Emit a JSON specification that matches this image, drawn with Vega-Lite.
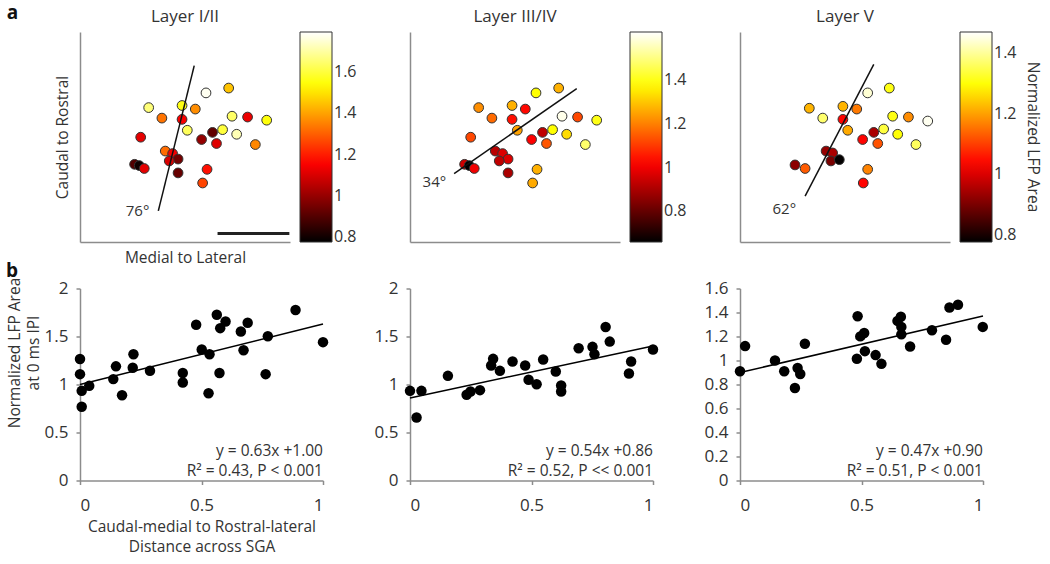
{
  "$schema": "https://vega.github.io/schema/vega-lite/v6.json",
  "background": "white",
  "padding": {"left": 5, "top": 4, "right": 5, "bottom": 5},
  "config": {
    "font": "Open Sans",
    "view": {"stroke": null},
    "axis": {"domainColor": "#8c8c8c", "domainWidth": 1.5, "tickColor": "#8c8c8c", "tickWidth": 1.5, "tickSize": 4, "grid": false, "labelFont": "Open Sans", "labelFontSize": 17, "labelColor": "#333", "titleFont": "Open Sans", "titleFontSize": 15.5, "titleFontWeight": "normal", "titleColor": "#333"},
    "legend": {"gradientVerticalMaxLength": 400, "labelFont": "Open Sans", "labelFontSize": 16, "labelColor": "#333", "labelOffset": 4, "gradientStrokeColor": "#333", "gradientStrokeWidth": 1, "padding": 0, "titleFont": "Open Sans", "titleFontSize": 15.5, "titleFontWeight": "normal", "titleColor": "#333"},
    "title": {"font": "Open Sans", "fontSize": 17, "fontWeight": "normal", "color": "#333", "frame": "group", "baseline": "alphabetic", "offset": 6}
  },
  "datasets": {
    "t1": [
      {"x": 70.8, "y": 73.3, "v": 1.45}, {"x": 60.0, "y": 71.0, "v": 1.78}, {"x": 32.7, "y": 64.0, "v": 1.66}, {"x": 48.6, "y": 65.0, "v": 1.56},
      {"x": 54.9, "y": 63.3, "v": 1.37}, {"x": 39.0, "y": 59.0, "v": 1.33}, {"x": 48.6, "y": 58.4, "v": 1.15}, {"x": 72.4, "y": 59.9, "v": 1.64},
      {"x": 79.8, "y": 59.5, "v": 1.13}, {"x": 88.9, "y": 58.0, "v": 1.55}, {"x": 51.1, "y": 53.2, "v": 1.63}, {"x": 67.9, "y": 53.5, "v": 1.60},
      {"x": 28.9, "y": 49.9, "v": 1.12}, {"x": 63.1, "y": 52.2, "v": 0.92}, {"x": 74.6, "y": 51.3, "v": 1.72}, {"x": 57.9, "y": 48.8, "v": 1.00},
      {"x": 65.0, "y": 46.9, "v": 1.11}, {"x": 83.5, "y": 46.4, "v": 1.36}, {"x": 40.6, "y": 43.3, "v": 1.32}, {"x": 44.1, "y": 42.1, "v": 1.14},
      {"x": 46.7, "y": 39.5, "v": 0.95}, {"x": 42.5, "y": 38.6, "v": 1.10}, {"x": 26.0, "y": 37.0, "v": 0.90}, {"x": 28.2, "y": 36.4, "v": 0.80},
      {"x": 30.6, "y": 35.0, "v": 1.12}, {"x": 60.5, "y": 34.6, "v": 1.18}, {"x": 46.7, "y": 32.9, "v": 0.93}, {"x": 58.4, "y": 28.1, "v": 1.26}
    ],
    "t2": [
      {"x": 70.8, "y": 73.3, "v": 1.27}, {"x": 60.0, "y": 71.0, "v": 1.38}, {"x": 32.7, "y": 64.0, "v": 1.22}, {"x": 48.6, "y": 65.0, "v": 1.27},
      {"x": 54.9, "y": 63.3, "v": 1.03}, {"x": 39.0, "y": 59.0, "v": 1.17}, {"x": 48.6, "y": 58.4, "v": 1.04}, {"x": 72.4, "y": 59.9, "v": 1.60},
      {"x": 79.8, "y": 59.5, "v": 1.12}, {"x": 88.9, "y": 58.0, "v": 1.40}, {"x": 51.1, "y": 53.2, "v": 1.25}, {"x": 67.9, "y": 53.5, "v": 1.38},
      {"x": 28.9, "y": 49.9, "v": 1.12}, {"x": 63.1, "y": 52.2, "v": 0.93}, {"x": 74.6, "y": 51.3, "v": 1.33}, {"x": 57.9, "y": 48.8, "v": 1.02},
      {"x": 65.0, "y": 46.9, "v": 1.14}, {"x": 83.5, "y": 46.4, "v": 1.48}, {"x": 40.6, "y": 43.3, "v": 0.92}, {"x": 44.1, "y": 42.1, "v": 0.97},
      {"x": 46.7, "y": 39.5, "v": 0.97}, {"x": 42.5, "y": 38.6, "v": 0.93}, {"x": 26.0, "y": 37.0, "v": 0.95}, {"x": 28.2, "y": 36.4, "v": 0.66},
      {"x": 30.6, "y": 35.0, "v": 1.00}, {"x": 60.5, "y": 34.6, "v": 1.27}, {"x": 46.7, "y": 32.9, "v": 0.90}, {"x": 58.4, "y": 28.1, "v": 1.26}
    ],
    "t3": [
      {"x": 71.1, "y": 73.3, "v": 1.31}, {"x": 60.8, "y": 71.0, "v": 1.44}, {"x": 33.0, "y": 63.7, "v": 1.22}, {"x": 49.0, "y": 64.6, "v": 1.22},
      {"x": 55.6, "y": 63.3, "v": 1.16}, {"x": 39.4, "y": 59.0, "v": 1.37}, {"x": 49.0, "y": 58.4, "v": 1.04}, {"x": 72.7, "y": 59.9, "v": 1.31},
      {"x": 80.2, "y": 59.5, "v": 1.18}, {"x": 89.4, "y": 57.6, "v": 1.46}, {"x": 51.3, "y": 53.2, "v": 1.21}, {"x": 68.4, "y": 53.8, "v": 1.34},
      {"x": 63.7, "y": 52.2, "v": 0.95}, {"x": 58.4, "y": 48.8, "v": 1.04}, {"x": 65.6, "y": 46.9, "v": 1.12}, {"x": 75.1, "y": 51.3, "v": 1.30},
      {"x": 83.8, "y": 46.4, "v": 1.36}, {"x": 41.0, "y": 43.3, "v": 0.93}, {"x": 44.1, "y": 42.4, "v": 0.95}, {"x": 43.3, "y": 38.6, "v": 0.90},
      {"x": 47.3, "y": 39.2, "v": 0.78}, {"x": 26.2, "y": 36.7, "v": 0.92}, {"x": 31.0, "y": 35.0, "v": 1.13}, {"x": 60.8, "y": 34.6, "v": 1.17},
      {"x": 58.7, "y": 28.1, "v": 1.04}
    ],
    "l1": [{"x": 54.4, "y": 84.0}, {"x": 37.3, "y": 14.8}],
    "l2": [{"x": 79.4, "y": 73.0}, {"x": 21.0, "y": 32.6}],
    "l3": [{"x": 63.7, "y": 84.6}, {"x": 31.0, "y": 21.8}],
    "b1": [
      {"x": 0, "y": 1.266}, {"x": 0, "y": 1.108}, {"x": 0.007, "y": 0.934}, {"x": 0.038, "y": 0.986}, {"x": 0.007, "y": 0.769},
      {"x": 0.137, "y": 1.056}, {"x": 0.148, "y": 1.189}, {"x": 0.173, "y": 0.888}, {"x": 0.217, "y": 1.175}, {"x": 0.220, "y": 1.315},
      {"x": 0.288, "y": 1.143}, {"x": 0.423, "y": 1.119}, {"x": 0.423, "y": 1.021}, {"x": 0.478, "y": 1.622}, {"x": 0.501, "y": 1.364},
      {"x": 0.533, "y": 1.315}, {"x": 0.529, "y": 0.909}, {"x": 0.563, "y": 1.727}, {"x": 0.577, "y": 1.587}, {"x": 0.599, "y": 1.657},
      {"x": 0.574, "y": 1.119}, {"x": 0.662, "y": 1.552}, {"x": 0.673, "y": 1.357}, {"x": 0.690, "y": 1.643}, {"x": 0.764, "y": 1.108},
      {"x": 0.773, "y": 1.503}, {"x": 0.887, "y": 1.776}, {"x": 1.0, "y": 1.441}
    ],
    "b2": [
      {"x": 0, "y": 0.934}, {"x": 0.047, "y": 0.934}, {"x": 0.027, "y": 0.657}, {"x": 0.156, "y": 1.090}, {"x": 0.233, "y": 0.893},
      {"x": 0.249, "y": 0.927}, {"x": 0.288, "y": 0.941}, {"x": 0.342, "y": 1.267}, {"x": 0.334, "y": 1.198}, {"x": 0.370, "y": 1.142},
      {"x": 0.422, "y": 1.239}, {"x": 0.474, "y": 1.198}, {"x": 0.488, "y": 1.049}, {"x": 0.521, "y": 1.003}, {"x": 0.548, "y": 1.260},
      {"x": 0.600, "y": 1.135}, {"x": 0.622, "y": 0.990}, {"x": 0.622, "y": 0.927}, {"x": 0.694, "y": 1.378}, {"x": 0.751, "y": 1.392},
      {"x": 0.759, "y": 1.315}, {"x": 0.805, "y": 1.599}, {"x": 0.822, "y": 1.447}, {"x": 0.910, "y": 1.239}, {"x": 0.901, "y": 1.114},
      {"x": 1.0, "y": 1.364}
    ],
    "b3": [
      {"x": 0, "y": 0.910}, {"x": 0.021, "y": 1.120}, {"x": 0.144, "y": 1.0}, {"x": 0.182, "y": 0.910}, {"x": 0.226, "y": 0.771},
      {"x": 0.237, "y": 0.938}, {"x": 0.248, "y": 0.888}, {"x": 0.267, "y": 1.140}, {"x": 0.481, "y": 1.014}, {"x": 0.484, "y": 1.369},
      {"x": 0.495, "y": 1.201}, {"x": 0.511, "y": 1.229}, {"x": 0.514, "y": 1.078}, {"x": 0.558, "y": 1.045}, {"x": 0.582, "y": 0.972},
      {"x": 0.648, "y": 1.330}, {"x": 0.662, "y": 1.364}, {"x": 0.664, "y": 1.280}, {"x": 0.664, "y": 1.218}, {"x": 0.700, "y": 1.117},
      {"x": 0.790, "y": 1.252}, {"x": 0.848, "y": 1.173}, {"x": 0.862, "y": 1.442}, {"x": 0.897, "y": 1.464}, {"x": 0.999, "y": 1.280}
    ],
    "r1": [{"x": 0, "y": 1.0}, {"x": 1, "y": 1.63}],
    "r2": [{"x": 0, "y": 0.86}, {"x": 1, "y": 1.40}],
    "r3": [{"x": 0, "y": 0.90}, {"x": 1, "y": 1.37}]
  },
  "columns": 3,
  "bounds": "flush",
  "align": "all",
  "spacing": {"row": 46.5, "column": 87},
  "resolve": {"scale": {"x": "independent", "y": "independent", "color": "independent"}, "legend": {"color": "independent"}},
  "concat": [
    {
      "width": 210, "height": 210,
      "title": {"text": "Layer I/II"},
      "encoding": {
        "x": {"field": "x", "type": "quantitative", "scale": {"domain": [0, 100], "nice": false, "zero": false}, "axis": {"title": "Medial to Lateral", "ticks": false, "labels": false, "titlePadding": 8}},
        "y": {"field": "y", "type": "quantitative", "scale": {"domain": [0, 100], "nice": false, "zero": false}, "axis": {"title": "Caudal to Rostral", "ticks": false, "labels": false, "titlePadding": 10}}
      },
      "layer": [
        {"data": {"name": "t1"}, "mark": {"type": "circle", "size": 95, "opacity": 1, "stroke": "#333", "strokeWidth": 1},
         "encoding": {"color": {"field": "v", "type": "quantitative",
           "scale": {"domain": [0.777, 1.1584, 1.5398, 1.794], "range": ["#000000", "#ff0000", "#ffff00", "#ffffff"], "interpolate": "rgb"},
           "legend": {"title": null, "orient": "right", "offset": 10, "values": [0.8, 1, 1.2, 1.4, 1.6], "format": ".1~f", "gradientLength": 210, "gradientThickness": 32, "labelOverlap": false}}}},
        {"data": {"name": "l1"}, "mark": {"type": "line", "color": "#111", "strokeWidth": 1.5}, "encoding": {}},
        {"data": {"values": [{"x": 27.4, "y": 15.0, "t": "76°"}]}, "mark": {"type": "text", "fontSize": 15, "color": "#333", "baseline": "middle"}, "encoding": {"text": {"field": "t"}}},
        {"data": {"values": [{"x": 65.5, "x2": 99.7, "y": 4.0}]}, "mark": {"type": "rule", "strokeWidth": 3, "color": "#222"}, "encoding": {"x2": {"field": "x2"}}}
      ]
    },
    {
      "width": 210, "height": 210,
      "title": {"text": "Layer III/IV"},
      "encoding": {
        "x": {"field": "x", "type": "quantitative", "scale": {"domain": [0, 100], "nice": false, "zero": false}, "axis": {"title": null, "ticks": false, "labels": false}},
        "y": {"field": "y", "type": "quantitative", "scale": {"domain": [0, 100], "nice": false, "zero": false}, "axis": {"title": null, "ticks": false, "labels": false}}
      },
      "layer": [
        {"data": {"name": "t2"}, "mark": {"type": "circle", "size": 95, "opacity": 1, "stroke": "#333", "strokeWidth": 1},
         "encoding": {"color": {"field": "v", "type": "quantitative",
           "scale": {"domain": [0.66, 1.02, 1.38, 1.62], "range": ["#000000", "#ff0000", "#ffff00", "#ffffff"], "interpolate": "rgb"},
           "legend": {"title": null, "orient": "right", "offset": 10, "values": [0.8, 1, 1.2, 1.4], "format": ".1~f", "gradientLength": 210, "gradientThickness": 32, "labelOverlap": false}}}},
        {"data": {"name": "l2"}, "mark": {"type": "line", "color": "#111", "strokeWidth": 1.5}, "encoding": {}},
        {"data": {"values": [{"x": 11.6, "y": 28.7, "t": "34°"}]}, "mark": {"type": "text", "fontSize": 15, "color": "#333", "baseline": "middle"}, "encoding": {"text": {"field": "t"}}}
      ]
    },
    {
      "width": 210, "height": 210,
      "title": {"text": "Layer V"},
      "encoding": {
        "x": {"field": "x", "type": "quantitative", "scale": {"domain": [0, 100], "nice": false, "zero": false}, "axis": {"title": null, "ticks": false, "labels": false}},
        "y": {"field": "y", "type": "quantitative", "scale": {"domain": [0, 100], "nice": false, "zero": false}, "axis": {"title": null, "ticks": false, "labels": false}}
      },
      "layer": [
        {"data": {"name": "t3"}, "mark": {"type": "circle", "size": 95, "opacity": 1, "stroke": "#333", "strokeWidth": 1},
         "encoding": {"color": {"field": "v", "type": "quantitative",
           "scale": {"domain": [0.777, 1.0369, 1.2968, 1.47], "range": ["#000000", "#ff0000", "#ffff00", "#ffffff"], "interpolate": "rgb"},
           "legend": {"title": "Normalized LFP Area", "titleOrient": "right", "titleAnchor": "middle", "titlePadding": 8, "orient": "right", "offset": 10, "values": [0.8, 1, 1.2, 1.4], "format": ".1~f", "gradientLength": 210, "gradientThickness": 32, "labelOverlap": false}}}},
        {"data": {"name": "l3"}, "mark": {"type": "line", "color": "#111", "strokeWidth": 1.5}, "encoding": {}},
        {"data": {"values": [{"x": 21.1, "y": 15.9, "t": "62°"}]}, "mark": {"type": "text", "fontSize": 15, "color": "#333", "baseline": "middle"}, "encoding": {"text": {"field": "t"}}}
      ]
    },
    {
      "width": 243, "height": 192,
      "encoding": {
        "x": {"field": "x", "type": "quantitative", "scale": {"domain": [0, 1], "nice": false, "zero": false}, "axis": {"values": [0, 0.5, 1], "format": ".1~f", "labelPadding": 13, "title": ["Caudal-medial to Rostral-lateral", "Distance across SGA"], "titlePadding": 6, "titleLineHeight": 20}},
        "y": {"field": "y", "type": "quantitative", "scale": {"domain": [0, 2], "nice": false}, "axis": {"values": [0, 0.5, 1, 1.5, 2], "format": ".1~f", "labelPadding": 8, "title": ["Normalized LFP Area", "at 0 ms IPI"], "titlePadding": 3, "titleLineHeight": 19, "titleY": 64}}
      },
      "layer": [
        {"data": {"name": "b1"}, "mark": {"type": "circle", "size": 110, "color": "#000", "opacity": 1}},
        {"data": {"name": "r1"}, "mark": {"type": "line", "color": "#000", "strokeWidth": 1.5}, "encoding": {}},
        {"data": {"values": [{"x": 1, "y": 0.3125, "t": "y = 0.63x +1.00"}, {"x": 1, "y": 0.104, "t": "R² = 0.43, P < 0.001"}]}, "mark": {"type": "text", "align": "right", "baseline": "middle", "fontSize": 15.5, "color": "#333"}, "encoding": {"text": {"field": "t"}}},
        {"data": {"values": [{"x": -0.278, "y": 4.865, "t": "a"}, {"x": -0.28, "y": 2.18, "t": "b"}]}, "mark": {"type": "text", "fontSize": 19, "fontWeight": "bold", "color": "#111", "baseline": "middle"}, "encoding": {"text": {"field": "t"}}}
      ]
    },
    {
      "width": 243, "height": 192,
      "encoding": {
        "x": {"field": "x", "type": "quantitative", "scale": {"domain": [0, 1], "nice": false, "zero": false}, "axis": {"values": [0, 0.5, 1], "format": ".1~f", "labelPadding": 13, "title": null}},
        "y": {"field": "y", "type": "quantitative", "scale": {"domain": [0, 2], "nice": false}, "axis": {"values": [0, 0.5, 1, 1.5, 2], "format": ".1~f", "labelPadding": 8, "title": null}}
      },
      "layer": [
        {"data": {"name": "b2"}, "mark": {"type": "circle", "size": 110, "color": "#000", "opacity": 1}},
        {"data": {"name": "r2"}, "mark": {"type": "line", "color": "#000", "strokeWidth": 1.5}, "encoding": {}},
        {"data": {"values": [{"x": 1, "y": 0.3125, "t": "y = 0.54x +0.86"}, {"x": 1, "y": 0.104, "t": "R² = 0.52, P << 0.001"}]}, "mark": {"type": "text", "align": "right", "baseline": "middle", "fontSize": 15.5, "color": "#333"}, "encoding": {"text": {"field": "t"}}}
      ]
    },
    {
      "width": 243, "height": 192,
      "encoding": {
        "x": {"field": "x", "type": "quantitative", "scale": {"domain": [0, 1], "nice": false, "zero": false}, "axis": {"values": [0, 0.5, 1], "format": ".1~f", "labelPadding": 13, "title": null}},
        "y": {"field": "y", "type": "quantitative", "scale": {"domain": [0, 1.6], "nice": false}, "axis": {"values": [0, 0.2, 0.4, 0.6, 0.8, 1, 1.2, 1.4, 1.6], "format": ".1~f", "labelPadding": 8, "title": null}}
      },
      "layer": [
        {"data": {"name": "b3"}, "mark": {"type": "circle", "size": 110, "color": "#000", "opacity": 1}},
        {"data": {"name": "r3"}, "mark": {"type": "line", "color": "#000", "strokeWidth": 1.5}, "encoding": {}},
        {"data": {"values": [{"x": 1, "y": 0.25, "t": "y = 0.47x +0.90"}, {"x": 1, "y": 0.083, "t": "R² = 0.51, P < 0.001"}]}, "mark": {"type": "text", "align": "right", "baseline": "middle", "fontSize": 15.5, "color": "#333"}, "encoding": {"text": {"field": "t"}}}
      ]
    }
  ]
}
